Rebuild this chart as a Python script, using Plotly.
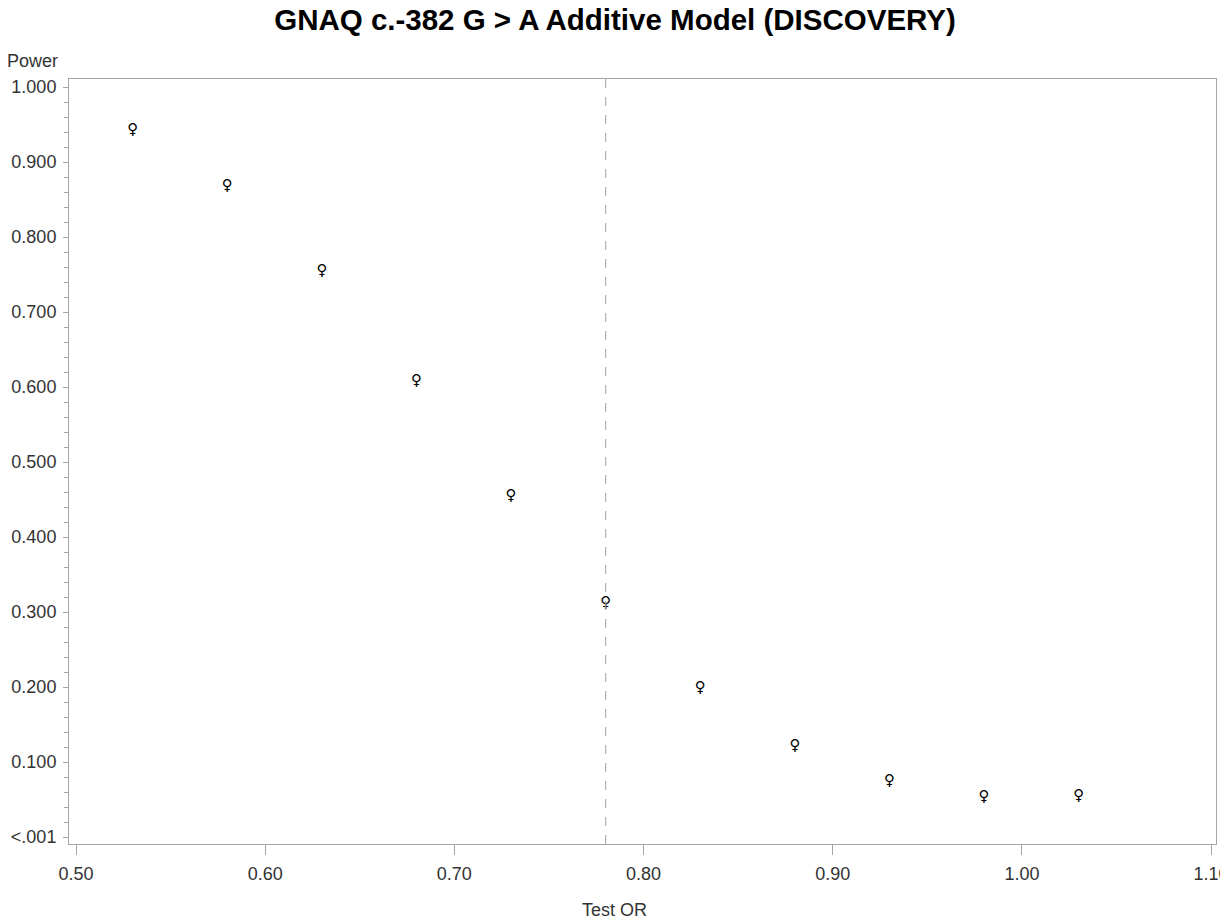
import plotly.graph_objects as go

test_or = [0.53, 0.58, 0.63, 0.68, 0.73, 0.78, 0.83, 0.88, 0.93, 0.98, 1.03]
power = [0.942, 0.868, 0.755, 0.608, 0.455, 0.312, 0.199, 0.121, 0.074, 0.053, 0.054]
ref_or = 0.78

x_ticks = [0.50, 0.60, 0.70, 0.80, 0.90, 1.00, 1.10]
x_labels = ["0.50", "0.60", "0.70", "0.80", "0.90", "1.00", "1.10"]
y_ticks = [0.0, 0.1, 0.2, 0.3, 0.4, 0.5, 0.6, 0.7, 0.8, 0.9, 1.0]
y_labels = ["<.001", "0.100", "0.200", "0.300", "0.400", "0.500", "0.600", "0.700", "0.800", "0.900", "1.000"]

title = "GNAQ c.-382 G > A Additive Model (DISCOVERY)"
axis_col = "#a6a6a6"
font_fam = "Liberation Sans, Arial, sans-serif"
txt_col = "#333333"

fig = go.Figure()
fig.add_trace(go.Scatter(
    x=test_or, y=power, mode="text", text=["♀"] * len(test_or),
    textposition="middle center",
    textfont=dict(family="DejaVu Sans", size=15, color="black"),
    showlegend=False,
))

fig.add_vline(x=ref_or, line=dict(color="#a0a0a0", width=1, dash="dash"))

fig.update_layout(
    width=1228, height=922,
    margin=dict(l=61, r=20, t=71, b=86),
    plot_bgcolor="white", paper_bgcolor="white",
    font=dict(family=font_fam, size=18, color=txt_col),
    title=dict(text="<b>" + title + "</b>", x=607 / 1228, xref="container", xanchor="center",
               y=1 - 12 / 922, yref="container", yanchor="middle",
               font=dict(family=font_fam, size=29.5, color="black")),
    showlegend=False,
)
fig.update_xaxes(
    range=[0.4963, 1.1026], tickvals=x_ticks, ticktext=x_labels, automargin=False,
    showgrid=False, zeroline=False, showline=True, linecolor=axis_col, linewidth=1,
    mirror=True, ticks="outside", tickcolor=axis_col, ticklen=10, ticklabelstandoff=3,
    tickfont=dict(family=font_fam, size=18, color=txt_col),
)
fig.update_yaxes(
    range=[-0.0093, 1.0107], tickvals=y_ticks, ticktext=y_labels, automargin=False,
    showgrid=False, zeroline=False, showline=True, linecolor=axis_col, linewidth=1,
    mirror=True, ticks="outside", tickcolor=axis_col, ticklen=5, ticklabelstandoff=3,
    tickfont=dict(family=font_fam, size=18, color=txt_col),
    minor=dict(dtick=0.02, ticks="outside", ticklen=4, tickcolor=axis_col, showgrid=False),
)

fig.add_annotation(text="Power", xref="paper", yref="paper", x=-9 / 1147, y=1,
                   xanchor="right", yanchor="middle", yshift=18, showarrow=False,
                   font=dict(family=font_fam, size=18, color=txt_col))
fig.add_annotation(text="Test OR", xref="paper", yref="paper", x=(614 - 69) / 1147, y=0,
                   xanchor="center", yanchor="middle", yshift=-66, showarrow=False,
                   font=dict(family=font_fam, size=18, color=txt_col))

fig.write_html("out.html")
